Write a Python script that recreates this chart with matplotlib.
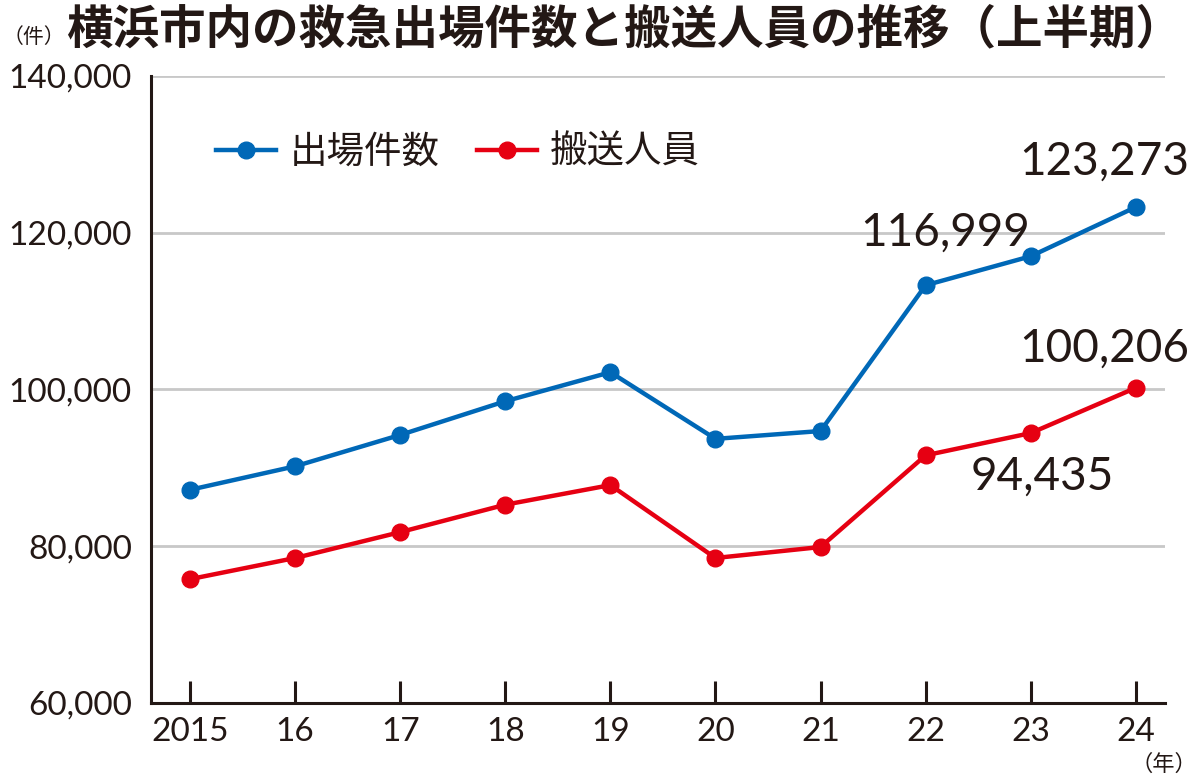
import numpy as np
import matplotlib.pyplot as plt

plt.rcParams['font.family'] = ['Noto Sans CJK JP', 'DejaVu Sans']

# データ（上半期）
years = np.arange(2015, 2025)
year_labels = ['2015', '16', '17', '18', '19', '20', '21', '22', '23', '24']
shutsujo = [87200, 90200, 94200, 98500, 102200, 93700, 94700, 113300, 116999, 123273]
hanso = [75800, 78500, 81800, 85300, 87800, 78500, 79900, 91600, 94435, 100206]

blue = '#0068b7'
red = '#e60012'
ink = '#231815'
num_font = dict(family=['Lato', 'DejaVu Sans'], weight='normal')

fig = plt.figure(figsize=(12, 7.81), dpi=100)
ax = fig.add_axes([0.126, 0.0999, 0.845, 0.8028])

ax.plot(years, shutsujo, color=blue, lw=3.2, marker='o', ms=12, label='出場件数', zorder=3)
ax.plot(years, hanso, color=red, lw=3.2, marker='o', ms=12, label='搬送人員', zorder=3)

ax.set_xlim(2014.63, 2024.28)
ax.set_ylim(60000, 140000)
ax.set_yticks([60000, 80000, 100000, 120000, 140000])
ax.set_yticklabels([f'{v:,}' for v in ax.get_yticks().astype(int)], **num_font)
ax.set_xticks(years)
ax.set_xticklabels(year_labels, **num_font)
ax.tick_params(axis='y', length=0, pad=14, labelsize=24, colors=ink)
ax.tick_params(axis='x', direction='in', length=16, width=2.2, color=ink, pad=10,
               labelsize=24, labelcolor=ink)
for y in [80000, 100000, 120000, 140000]:
    ax.axhline(y, color='#c8c8c8', lw=2, zorder=1)

for s in ['top', 'right']:
    ax.spines[s].set_visible(False)
for s in ['left', 'bottom']:
    ax.spines[s].set_color(ink)
    ax.spines[s].set_linewidth(2.2)

# 数値ラベル
labels = [(shutsujo, 8, (-86, 24)), (shutsujo, 9, (-32, 45)),
          (hanso, 8, (12, -44)), (hanso, 9, (-32, 39))]
for series, i, off in labels:
    ax.annotate(f'{series[i]:,}', (years[i], series[i]), xytext=off,
                textcoords='offset pixels', ha='center', va='center',
                fontsize=33, color=ink, zorder=4, **num_font)

leg = ax.legend(loc='upper left', bbox_to_anchor=(0.031, 0.963), ncol=2, frameon=False,
                fontsize=27, handlelength=1.6, columnspacing=1.0, handletextpad=0.35)
for t in leg.get_texts():
    t.set_color(ink)

fig.text(0.055, 0.963, '横浜市内の救急出場件数と搬送人員の推移（上半期）', fontsize=33.5,
         fontweight='bold', color=ink, va='center', ha='left')
fig.text(0.002, 0.953, '（件）', fontsize=15, color=ink, va='center', ha='left')
fig.text(0.942, 0.021, '（年）', fontsize=16, color=ink, va='center', ha='left')

fig.savefig('out.png', dpi=100, facecolor='white')
